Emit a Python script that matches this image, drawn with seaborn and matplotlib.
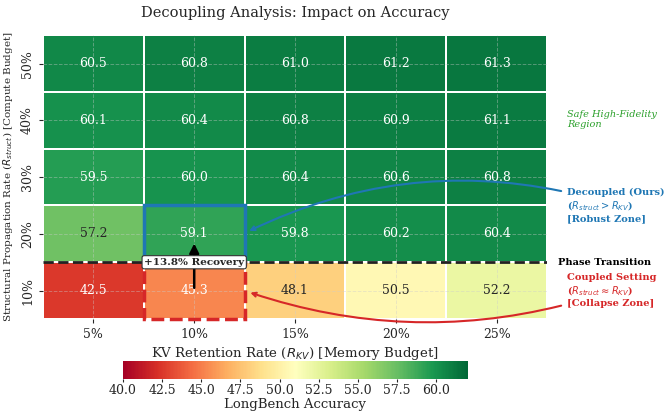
import numpy as np
import pandas as pd
import matplotlib
matplotlib.use("Agg")
import matplotlib.pyplot as plt
import seaborn as sns
from matplotlib.patches import Rectangle

kv_labels = ["5%", "10%", "15%", "20%", "25%"]
struct_labels = ["50%", "40%", "30%", "20%", "10%"]
row_50 = [60.5, 60.8, 61.0, 61.2, 61.3]
row_40 = [60.1, 60.4, 60.8, 60.9, 61.1]
row_30 = [59.5, 60.0, 60.4, 60.6, 60.8]
row_20 = [57.2, 59.1, 59.8, 60.2, 60.4]
row_10 = [42.5, 45.3, 48.1, 50.5, 52.2]
cbar_ticks = [40.0, 42.5, 45.0, 47.5, 50.0, 52.5, 55.0, 57.5, 60.0]

df = pd.DataFrame([row_50, row_40, row_30, row_20, row_10],
                  index=struct_labels, columns=kv_labels)

sns.set_style("ticks")
plt.rcParams["font.family"] = ["DejaVu Serif"]
plt.rcParams["mathtext.fontset"] = "dejavusans"

fig = plt.figure(figsize=(6.72, 4.18), dpi=100)
ax = fig.add_axes([0.064, 0.2368, 0.75, 0.679])
cax = fig.add_axes([0.183, 0.0933, 0.513, 0.043])

sns.heatmap(df, ax=ax, cmap="RdYlGn", vmin=40, vmax=62, annot=True, fmt=".1f",
            annot_kws={"fontsize": 9}, linewidths=1.2, linecolor="white",
            cbar_ax=cax, cbar_kws={"orientation": "horizontal", "ticks": cbar_ticks,
                                   "format": "%.1f"})

ax.set_axisbelow(False)
ax.grid(True, ls="--", lw=0.7, color="#cccccc", alpha=0.4, zorder=2)
ax.tick_params(axis="both", labelsize=9, length=3)
ax.set_yticklabels(struct_labels, rotation=90, va="center")
ax.set_xticklabels(kv_labels, rotation=0)
ax.set_xlabel(r"KV Retention Rate ($R_{KV}$) [Memory Budget]", fontsize=9.6, labelpad=3)
ax.set_ylabel(r"Structural Propagation Rate ($R_{struct}$) [Compute Budget]", fontsize=7.5)
ax.set_title("Decoupling Analysis: Impact on Accuracy", fontsize=10.5, pad=13)

cax.tick_params(labelsize=9, length=2, pad=1.5)
cax.set_xlabel("LongBench Accuracy", fontsize=9.5, labelpad=1)

# highlighted cells
ax.add_patch(Rectangle((1, 3), 1, 1, fill=False, edgecolor="#1f77b4", lw=2.5, zorder=5))
ax.add_patch(Rectangle((1, 4), 1, 1, fill=False, edgecolor="#d62728", lw=2.5, ls="--", zorder=5, clip_on=False))

# phase transition line
ax.axhline(4, color="#222222", ls="--", lw=2, zorder=6)
ax.text(5.11, 4.0, "Phase Transition", fontsize=7.1, fontweight="bold", color="black",
        ha="left", va="center", clip_on=False)

# recovery arrow
ax.annotate("", xy=(1.5, 3.62), xytext=(1.5, 4.5),
            arrowprops=dict(arrowstyle="-|>", color="black", lw=1.8, mutation_scale=14), zorder=7)
ax.text(1.5, 4.0, "+13.8% Recovery", fontsize=7.5, fontweight="bold", ha="center", va="center",
        zorder=8, bbox=dict(boxstyle="round,pad=0.2", fc="white", ec="#333333", lw=0.8))

# side annotations
ax.text(5.2, 1.48, "Safe High-Fidelity\nRegion", fontsize=7, style="italic", color="#2ca02c",
        ha="left", va="center", clip_on=False)
ax.annotate("Decoupled (Ours)\n" + r"($R_{struct} > R_{KV}$)" + "\n[Robust Zone]",
            xy=(2.02, 3.47), xytext=(5.2, 3.0), fontsize=7.1, fontweight="bold", color="#1f77b4",
            ha="left", va="center", annotation_clip=False,
            arrowprops=dict(arrowstyle="->", color="#1f77b4", lw=1.5,
                            connectionstyle="arc3,rad=0.2"))
ax.annotate("Coupled Setting\n" + r"($R_{struct} \approx R_{KV}$)" + "\n[Collapse Zone]",
            xy=(2.03, 4.52), xytext=(5.2, 4.5), fontsize=7.1, fontweight="bold", color="#d62728",
            ha="left", va="center", annotation_clip=False,
            arrowprops=dict(arrowstyle="->", color="#d62728", lw=1.5,
                            connectionstyle="arc3,rad=-0.17"))

fig.savefig("out.png", dpi=100)
